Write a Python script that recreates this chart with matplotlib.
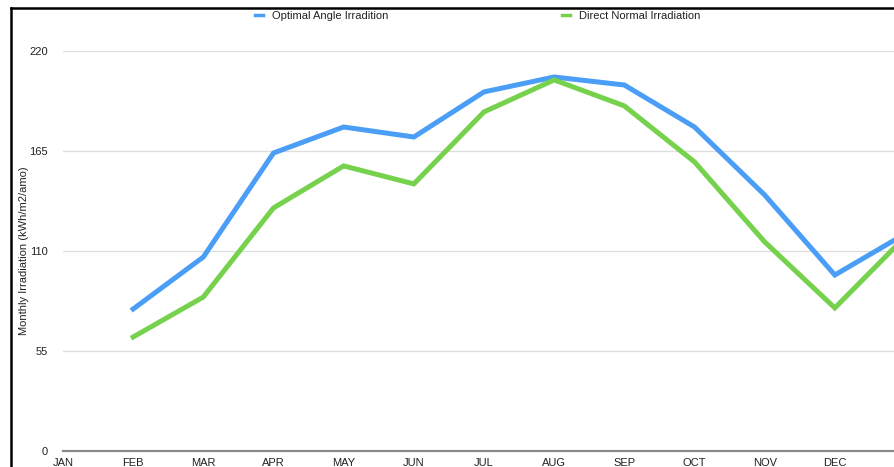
import matplotlib
matplotlib.use('Agg')
import matplotlib.pyplot as plt
from matplotlib.lines import Line2D
import numpy as np

plt.rcParams['font.family'] = ['Liberation Sans', 'DejaVu Sans']

months = ['JAN', 'FEB', 'MAR', 'APR', 'MAY', 'JUN', 'JUL', 'AUG', 'SEP', 'OCT', 'NOV', 'DEC', '']
optimal_angle = [np.nan, 78.1, 106.7, 163.9, 178.2, 172.7, 197.5, 205.7, 201.3, 178.2, 140.8, 96.8, 119.4]
direct_normal = [np.nan, 62.7, 84.7, 133.7, 156.8, 146.9, 186.5, 204.1, 189.8, 159.0, 115.0, 78.7, 117.7]
y_ticks = [0, 55, 110, 165, 220]

W, H = 895, 467
fig = plt.figure(figsize=(W / 100, H / 100), dpi=100)
# axes runs past the right edge, like the cropped screenshot
ax = fig.add_axes([63 / W, (H - 451) / H, 842 / W, 400 / H])

x = np.arange(len(months))
ax.plot(x, optimal_angle, color='#4a9ef6', lw=3.6, label='Optimal Angle Irradition',
        solid_joinstyle='miter', clip_on=False)
ax.plot(x, direct_normal, color='#76d14d', lw=3.6, label='Direct Normal Irradiation',
        solid_joinstyle='miter', clip_on=False)

ax.set_xlim(0, 12)
ax.set_ylim(0, 220)
ax.set_xticks(x)
ax.set_xticklabels(months, fontsize=8, color='#222222')
ax.set_yticks(y_ticks)
ax.set_yticklabels([str(t) for t in y_ticks], fontsize=8, color='#222222')
ax.tick_params(axis='both', length=0)
ax.tick_params(axis='y', pad=11)
ax.tick_params(axis='x', pad=5)

for t in y_ticks[1:]:
    ax.axhline(t, color='#dddddd', lw=0.9, zorder=0)
ax.axhline(0, color='#8a8a8a', lw=1.6, zorder=1, clip_on=False)
for s in ax.spines.values():
    s.set_visible(False)

ax.set_ylabel('Monthly Irradiation (kWh/m2/amo)', fontsize=8, color='#222222')
ax.yaxis.set_label_coords(-34 / 842, 0.5)

leg = ax.legend(ncol=2, loc='upper left', bbox_to_anchor=(255 / W, 1 - 11 / H),
                bbox_transform=fig.transFigure, frameon=False, fontsize=8,
                handlelength=0.75, handletextpad=0.8, columnspacing=15.6,
                borderpad=0, borderaxespad=0)
for h in leg.get_lines():
    h.set_linewidth(2.5)
for t in leg.get_texts():
    t.set_color('#222222')

# black frame of the screenshot (top and left)
fig.add_artist(Line2D([11 / W, 1], [1 - 8 / H, 1 - 8 / H], color='black', lw=1.8,
                      transform=fig.transFigure))
fig.add_artist(Line2D([11 / W, 11 / W], [0, 1 - 8 / H], color='black', lw=1.8,
                      transform=fig.transFigure))

fig.savefig('out.png', dpi=100)
